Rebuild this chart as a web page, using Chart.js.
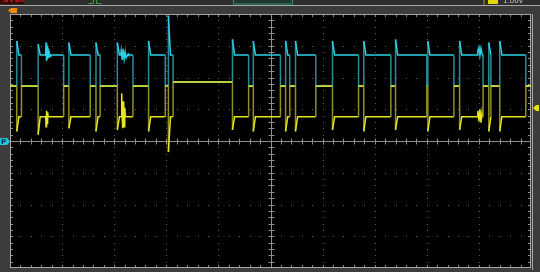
<!DOCTYPE html>
<html>
<head>
<meta charset="utf-8">
<script src="https://cdn.jsdelivr.net/npm/chart.js@4"></script>
<style>
  html, body { margin: 0; padding: 0; background: #3a3a3a; overflow: hidden; }
  canvas { display: block; }
</style>
</head>
<body>
<canvas id="scope" width="540" height="272"></canvas>
<script>
// time in divisions (0..10), voltage in divisions (-4..4, 0 = centre line)
const pulseStart = [0.13, 0.54, 1.13, 1.65, 2.06, 2.66, 3.04, 4.27, 4.67, 5.29, 5.48, 6.19, 6.79, 7.40, 8.02, 8.63, 9.19, 9.40];
const pulseEnd   = [0.22, 1.03, 1.54, 1.73, 2.36, 2.98, 3.13, 4.58, 5.19, 5.37, 5.87, 6.69, 7.31, 8.00, 8.52, 9.08, 9.23, 9.90];
const cyanPeak   = [3.15, 3.05, 3.10, 3.10, 3.10, 3.15, 3.95, 3.20, 3.15, 3.15, 3.15, 3.15, 3.15, 3.20, 3.15, 3.15, 3.10, 3.15];
const yellowDip  = [0.30, 0.20, 0.40, 0.30, 0.35, 0.30, -0.35, 0.35, 0.30, 0.30, 0.30, 0.35, 0.30, 0.35, 0.30, 0.35, 0.30, 0.30];
const idleAfter  = [1.73, 1.73, 1.73, 1.73, 1.73, 1.73, 1.86, 1.73, 1.73, 1.73, 1.73, 1.73, 1.73, 1.73, 1.73, 1.73, 1.73, 1.73];
const idleStart = 1.73;
const cyanHigh = 2.71;
const yellowLow = 0.76;

// ringing bursts
const cyanNoiseX = [0.685, 0.692, 0.702, 0.712, 0.721, 0.731, 0.740, 0.750, 0.769, 0.780,
                    2.125, 2.135, 2.154, 2.173, 2.192, 2.212, 2.231, 2.269, 2.280,
                    8.97, 8.98, 9.00, 9.02, 9.04, 9.06, 9.07];
const cyanNoiseY = [2.71, 3.10, 2.52, 3.00, 2.58, 2.90, 2.62, 2.80, 2.66, 2.71,
                    2.71, 2.85, 2.55, 2.90, 2.58, 2.80, 2.62, 2.74, 2.71,
                    2.71, 2.85, 2.95, 2.70, 2.92, 2.75, 2.71];
const yellowNoiseX = [0.685, 0.692, 0.702, 0.712, 0.722, 0.735,
                      2.135, 2.144, 2.154, 2.163, 2.173, 2.183, 2.192, 2.202, 2.215,
                      8.97, 8.98, 9.00, 9.02, 9.04, 9.06, 9.07];
const yellowNoiseY = [0.76, 0.45, 0.95, 0.55, 0.90, 0.76,
                      0.76, 1.50, 0.76, 0.40, 1.25, 0.76, 0.45, 1.05, 0.76,
                      0.76, 0.95, 0.62, 1.00, 0.58, 0.90, 0.76];

function buildTrace(activeLevel, peaks, noiseX, noiseY) {
  const pts = [{ x: 0, y: idleStart }];
  let idle = idleStart;
  pulseStart.forEach((s, i) => {
    pts.push({ x: s, y: idle }, { x: s, y: peaks[i] }, { x: s + 0.04, y: activeLevel }, { x: pulseEnd[i], y: activeLevel });
    idle = idleAfter[i];
    pts.push({ x: pulseEnd[i], y: idle });
  });
  pts.push({ x: 10, y: idle });
  noiseX.forEach((nx, i) => pts.push({ x: nx, y: noiseY[i] }));
  // stable sort keeps the vertical edges (equal x) in order
  return pts.sort((p, q) => p.x - q.x);
}

const scopeFrame = {
  id: 'scopeFrame',
  beforeDraw(chart) {
    const { ctx, chartArea: a, scales: { x, y } } = chart;
    const W = chart.width, H = chart.height;
    ctx.save();
    ctx.fillStyle = '#3c3c3c';
    ctx.fillRect(0, 0, W, H);

    // status bar along the top (mostly cut off)
    ctx.fillStyle = '#2e2e2e';
    ctx.fillRect(0, 0, W, 5);
    ctx.fillStyle = '#3a0808';
    ctx.fillRect(0, 0, 24, 4);
    ctx.fillStyle = '#d02020';
    ctx.font = 'bold 8px "DejaVu Sans"';
    ctx.fillText('STOP', 3, 2);
    ctx.strokeStyle = '#3f9a4a';
    ctx.lineWidth = 1;
    ctx.beginPath();
    ctx.moveTo(88.5, 3.5); ctx.lineTo(93.5, 3.5); ctx.lineTo(93.5, -1); ctx.moveTo(96.5, -1); ctx.lineTo(96.5, 3.5); ctx.lineTo(101.5, 3.5);
    ctx.stroke();
    ctx.fillStyle = '#1d3a2a';
    ctx.fillRect(233, 0, 60, 5);
    ctx.strokeStyle = '#3a8c78';
    ctx.strokeRect(233.5, -1, 59, 5);
    ctx.fillStyle = '#e0d800';
    ctx.fillRect(488, 0, 10, 4);
    ctx.font = '7px "DejaVu Sans"';
    ctx.fillText('ʃ', 483, 4);
    ctx.fillStyle = '#c8c8c8';
    ctx.fillText('1.00V', 503, 3);
    ctx.fillStyle = '#a8a8a8';
    ctx.fillRect(0, 5, W, 1);

    // orange time-offset marker
    ctx.fillStyle = '#f08a10';
    ctx.fillRect(11, 8, 6, 5);
    ctx.beginPath(); ctx.moveTo(11, 8); ctx.lineTo(8, 10.5); ctx.lineTo(11, 13); ctx.fill();

    // plot background
    ctx.fillStyle = '#000';
    ctx.fillRect(a.left, a.top, a.width, a.height);

    // dotted graticule
    ctx.fillStyle = '#646464';
    for (let i = 1; i < 10; i++) {
      if (i === 5) continue;
      const px = Math.round(x.getPixelForValue(i));
      for (let k = 1; k < 40; k++) ctx.fillRect(px, Math.round(y.getPixelForValue(-4 + k * 0.2)), 1, 1);
    }
    for (let j = -3; j <= 3; j++) {
      if (j === 0) continue;
      const py = Math.round(y.getPixelForValue(j));
      for (let k = 1; k < 50; k++) ctx.fillRect(Math.round(x.getPixelForValue(k * 0.2)), py, 1, 1);
    }

    // centre cross with minor ticks
    const cx = Math.round(x.getPixelForValue(5)) + 0.5;
    const cy = Math.round(y.getPixelForValue(0)) + 0.5;
    ctx.strokeStyle = '#8e8e8e';
    ctx.lineWidth = 1;
    ctx.beginPath();
    ctx.moveTo(a.left, cy); ctx.lineTo(a.right, cy);
    ctx.moveTo(cx, a.top); ctx.lineTo(cx, a.bottom);
    for (let k = 1; k < 50; k++) {
      const px = Math.round(x.getPixelForValue(k * 0.2)) + 0.5;
      ctx.moveTo(px, cy - 3); ctx.lineTo(px, cy + 3);
      ctx.moveTo(px, a.top); ctx.lineTo(px, a.top + 3);
      ctx.moveTo(px, a.bottom); ctx.lineTo(px, a.bottom - 3);
    }
    for (let k = 1; k < 40; k++) {
      const py = Math.round(y.getPixelForValue(-4 + k * 0.2)) + 0.5;
      ctx.moveTo(cx - 3, py); ctx.lineTo(cx + 3, py);
      ctx.moveTo(a.left, py); ctx.lineTo(a.left + 3, py);
      ctx.moveTo(a.right, py); ctx.lineTo(a.right - 3, py);
    }
    ctx.stroke();

    // outer border
    ctx.strokeStyle = '#a6a6a6';
    ctx.strokeRect(a.left + 0.5, a.top + 0.5, a.width - 1, a.height - 1);
    ctx.fillStyle = '#a6a6a6';
    ctx.fillRect(a.right + 1, a.top, 1, a.height + 2);
    ctx.restore();
  },
  afterDraw(chart) {
    const { ctx, chartArea: a, scales: { y } } = chart;
    ctx.save();
    // channel ground marker (cyan) on the left
    const gy = Math.round(y.getPixelForValue(0));
    ctx.fillStyle = '#20c8e0';
    ctx.fillRect(0, gy - 3, 7, 7);
    ctx.beginPath(); ctx.moveTo(7, gy - 3); ctx.lineTo(10, gy + 0.5); ctx.lineTo(7, gy + 4); ctx.fill();
    ctx.fillStyle = '#0a2a40';
    ctx.font = 'bold 7px "DejaVu Sans"';
    ctx.fillText('P', 1, gy + 3);
    // trigger level marker (yellow) on the right
    const ty = Math.round(y.getPixelForValue(1.04));
    ctx.fillStyle = '#e8e000';
    ctx.beginPath(); ctx.moveTo(a.right + 2, ty); ctx.lineTo(a.right + 5, ty - 3); ctx.lineTo(539, ty - 3); ctx.lineTo(539, ty + 3); ctx.lineTo(a.right + 5, ty + 3); ctx.fill();
    ctx.restore();
  }
};

const edgeDim = (bright, dim) => ({
  borderColor: c => (c.p0.parsed.x === c.p1.parsed.x ? dim : bright)
});

new Chart(document.getElementById('scope'), {
  type: 'line',
  data: {
    datasets: [
      {
        label: 'CH2',
        data: buildTrace(yellowLow, yellowDip, yellowNoiseX, yellowNoiseY),
        borderColor: '#e6e61a',
        borderWidth: 1.5,
        pointRadius: 0,
        tension: 0,
        order: 0,
        segment: edgeDim('#e6e61a', '#8f8f22')
      },
      {
        label: 'CH1',
        data: buildTrace(cyanHigh, cyanPeak, cyanNoiseX, cyanNoiseY),
        borderColor: '#2ad2e8',
        borderWidth: 1.5,
        pointRadius: 0,
        tension: 0,
        order: 1,
        segment: edgeDim('#2ad2e8', '#2a8a96')
      }
    ]
  },
  options: {
    responsive: false,
    animation: false,
    devicePixelRatio: 1,
    layout: { padding: { left: 10, right: 9, top: 14, bottom: 4 } },
    plugins: { legend: { display: false }, tooltip: { enabled: false } },
    scales: {
      x: { type: 'linear', min: 0, max: 10, display: false },
      y: { min: -4, max: 4, display: false }
    }
  },
  plugins: [scopeFrame]
});
</script>
</body>
</html>
